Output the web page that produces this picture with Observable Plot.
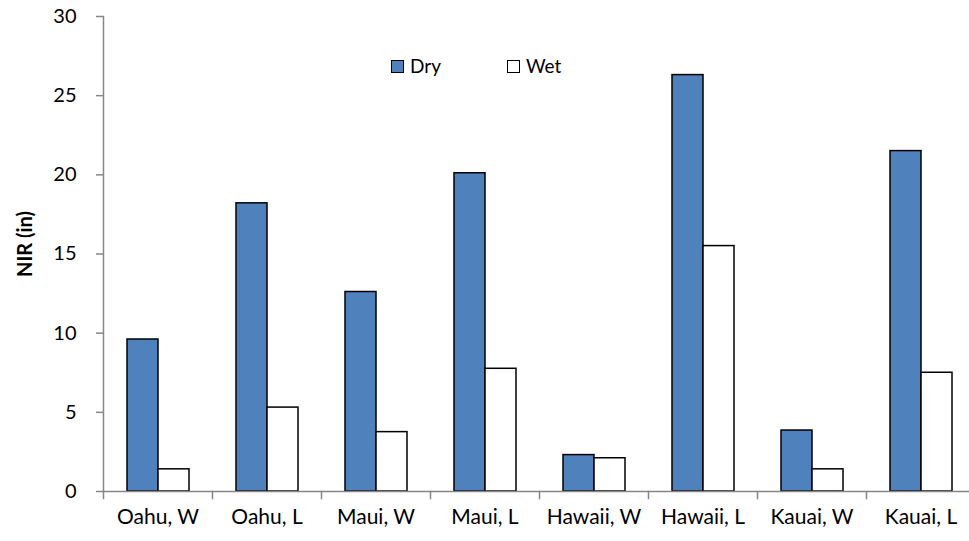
<!DOCTYPE html>
<html>
<head>
<meta charset="utf-8">
<script src="https://cdn.jsdelivr.net/npm/d3@7"></script>
<script src="https://cdn.jsdelivr.net/npm/@observablehq/plot@0.6"></script>
<style>
  html, body { margin: 0; padding: 0; background: #fff; overflow: hidden; }
  #wrap { position: relative; width: 969px; height: 541px; overflow: hidden; }
  .legend-item { position: absolute; display: flex; align-items: center; font-family: Lato, sans-serif; font-size: 19px; color: #000; line-height: 20px; }
  .swatch { width: 11px; height: 11px; border: 1.5px solid #000; margin-right: 6px; }
</style>
</head>
<body>
<div id="wrap"></div>
<script>
const categories = ["Oahu, W", "Oahu, L", "Maui, W", "Maui, L", "Hawaii, W", "Hawaii, L", "Kauai, W", "Kauai, L"];
const seriesNames = ["Dry", "Wet"];
const dryValues = [9.6, 18.2, 12.6, 20.1, 2.3, 26.3, 3.85, 21.5];
const wetValues = [1.4, 5.3, 3.75, 7.75, 2.1, 15.5, 1.4, 7.5];
const yTicks = [0, 5, 10, 15, 20, 25, 30];
const seriesColors = ["#4F81BD", "#FFFFFF"];
const yLabel = "NIR (in)";

const data = categories.flatMap((c, i) => [
  {category: c, series: seriesNames[0], value: dryValues[i]},
  {category: c, series: seriesNames[1], value: wetValues[i]}
]);

const axisGray = "#868686";

const chart = Plot.plot({
  width: 969,
  height: 541,
  marginLeft: 100,
  marginRight: -8,
  marginTop: 16,
  marginBottom: 50,
  style: {fontFamily: "Lato, sans-serif", fontSize: "20px", color: "#000", background: "#fff", overflow: "hidden"},
  fx: {domain: categories, padding: 0, label: null},
  x: {domain: seriesNames, paddingInner: 0, paddingOuter: 0.705, axis: null},
  y: {domain: [0, 30], label: null},
  color: {domain: seriesNames, range: seriesColors},
  marks: [
    Plot.barY(data, {fx: "category", x: "series", y: "value", fill: "series", stroke: "#000", strokeWidth: 1.5}),
    Plot.ruleY([0], {stroke: axisGray, strokeWidth: 1.5}),
    Plot.frame({anchor: "left", stroke: axisGray, strokeWidth: 1.5, insetTop: 475, insetBottom: -7}),
    Plot.frame({anchor: "left", stroke: axisGray, strokeWidth: 1.5, facetAnchor: "left"}),
    Plot.axisY(yTicks, {anchor: "left", tickSize: 7, tickPadding: 20, stroke: axisGray, strokeWidth: 1.5, fontSize: 20, label: null}),
    Plot.axisFx({anchor: "bottom", tickSize: 0, tickPadding: 18, fontSize: 21, label: null}),
    Plot.text([yLabel], {text: d => d, frameAnchor: "left", rotate: -90, dx: -78, dy: -10, textAnchor: "middle", fontWeight: "bold", fontSize: 20, facetAnchor: "left"})
  ]
});

const wrap = document.getElementById("wrap");
wrap.appendChild(chart);

const legendPos = [391, 507];
seriesNames.forEach((name, i) => {
  const item = document.createElement("div");
  item.className = "legend-item";
  item.style.left = legendPos[i] + "px";
  item.style.top = "56px";
  const sw = document.createElement("span");
  sw.className = "swatch";
  sw.style.background = seriesColors[i];
  const label = document.createElement("span");
  label.textContent = name;
  item.appendChild(sw);
  item.appendChild(label);
  wrap.appendChild(item);
});
</script>
</body>
</html>
